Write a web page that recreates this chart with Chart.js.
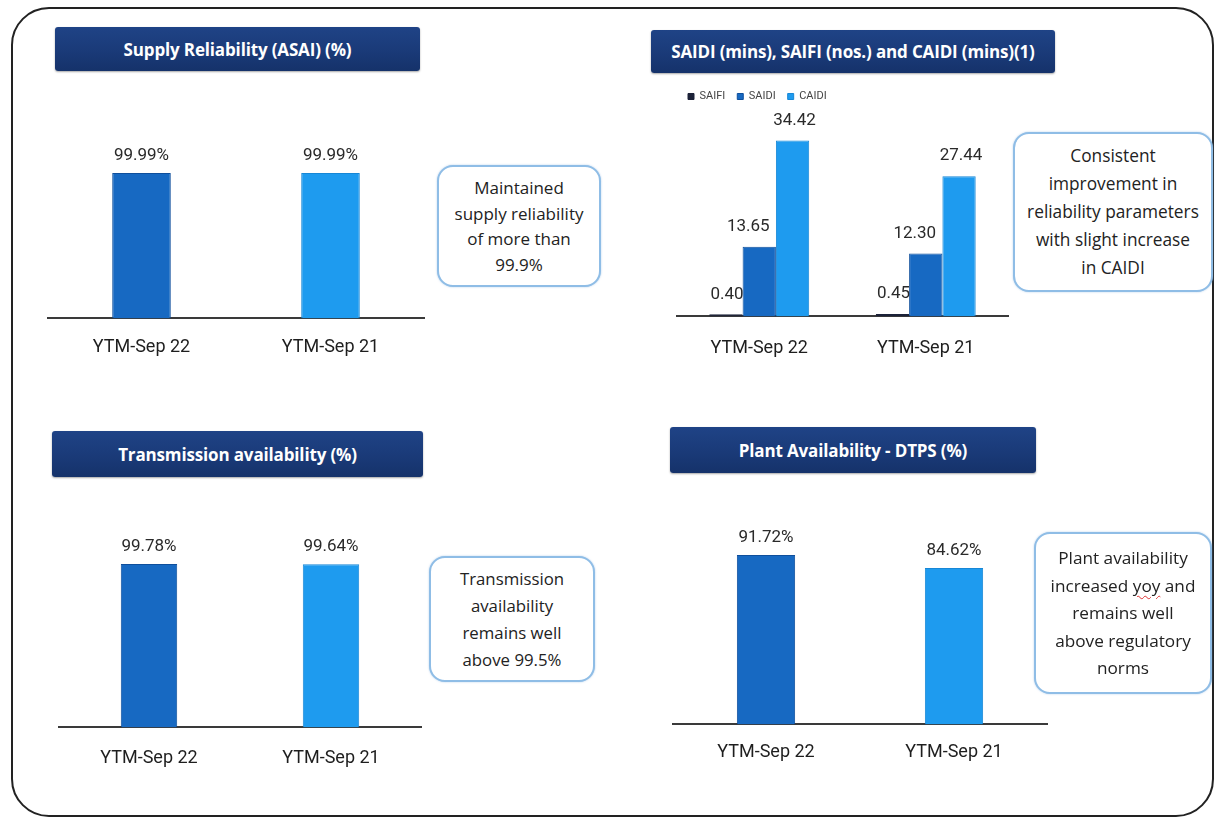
<!DOCTYPE html>
<html>
<head>
<meta charset="utf-8">
<title>Reliability and availability indicators</title>
<script src="https://cdn.jsdelivr.net/npm/chart.js@4.4.1/dist/chart.umd.min.js"></script>
<style>
  html, body { margin: 0; padding: 0; background: #ffffff; }
  #page { position: relative; width: 1219px; height: 820px; overflow: hidden; background: #ffffff; }
  .frame { position: absolute; left: 11px; top: 7px; width: 1203px; height: 810px;
           border: 2px solid #222; border-radius: 38px; box-sizing: border-box; }
  .title { position: absolute; box-sizing: border-box; color: #fff;
           background: linear-gradient(180deg, #1f4386 0%, #1a3a78 55%, #15326a 100%);
           border-radius: 3px; box-shadow: 0 1px 2px rgba(0,0,0,0.35);
           font-family: "Open Sans", sans-serif; font-weight: 700; font-size: 17px;
           letter-spacing: -0.15px; display: flex; align-items: center; justify-content: center; }
  .note { position: absolute; box-sizing: border-box; border: 2px solid #8fbde6;
          border-radius: 16px; background: #fff; box-shadow: 0 0 2px rgba(120,170,220,0.6);
          font-family: "Open Sans", sans-serif; color: #222; text-align: center;
          display: flex; align-items: center; justify-content: center; }
  .box { position: absolute; }
  .yoy { text-decoration: underline wavy #d33; text-decoration-thickness: 1px; text-underline-offset: 3px; }
</style>
</head>
<body>
<div id="page">
  <div class="frame"></div>

  <div class="title" style="left:55px; top:27px; width:365px; height:44px;">Supply Reliability (ASAI) (%)</div>
  <div class="title" style="left:651px; top:30px; width:404px; height:43px;">SAIDI (mins), SAIFI (nos.) and CAIDI (mins)(1)</div>
  <div class="title" style="left:52px; top:431px; width:371px; height:46px;">Transmission availability (%)</div>
  <div class="title" style="left:670px; top:427px; width:366px; height:46px;">Plant Availability - DTPS (%)</div>

  <div class="box" style="left:47px; top:130px; width:378px; height:246px;"><canvas id="supplyChart"></canvas></div>
  <div class="box" style="left:676px; top:79px; width:333px; height:301px;"><canvas id="indexChart"></canvas></div>
  <div class="box" style="left:58px; top:520px; width:364px; height:269px;"><canvas id="transmissionChart"></canvas></div>
  <div class="box" style="left:672px; top:500px; width:376px; height:280px;"><canvas id="plantChart"></canvas></div>

  <div class="note" style="left:437px; top:165px; width:164px; height:122px; font-size:17px; line-height:25.5px;">
    <div>Maintained<br>supply reliability<br>of more than<br>99.9%</div></div>
  <div class="note" style="left:1013px; top:132px; width:200px; height:160px; font-size:17.3px; line-height:28px;">
    <div>Consistent<br>improvement in<br>reliability parameters<br>with slight increase<br>in CAIDI</div></div>
  <div class="note" style="left:429px; top:556px; width:166px; height:126px; font-size:16.8px; line-height:27px;">
    <div>Transmission<br>availability<br>remains well<br>above 99.5%</div></div>
  <div class="note" style="left:1034px; top:532px; width:178px; height:162px; font-size:17.2px; line-height:27.5px;">
    <div>Plant availability<br>increased <span class="yoy">yoy</span> and<br>remains well<br>above regulatory<br>norms</div></div>
</div>

<script>
// Periods compared in every panel
const periods = ['YTM-Sep 22', 'YTM-Sep 21'];

// Supply reliability, ASAI (%)
const supplyReliability = [99.99, 99.99];

// Transmission availability (%)
const transmissionAvailability = [99.78, 99.64];

// Plant availability, DTPS (%)
const plantAvailability = [91.72, 84.62];

// Reliability indices
const indexNames = ['SAIFI', 'SAIDI', 'CAIDI'];
const saifi = [0.40, 0.45];
const saidi = [13.65, 12.30];
const caidi = [34.42, 27.44];

const DARK_BLUE = '#1769c2';
const DARK_EDGE = '#0f4f9c';
const LIGHT_BLUE = '#1e9bef';
const LIGHT_EDGE = '#1787d6';
const NAVY = '#1c2238';

// Writes each bar's value above it (drawn under the bars, so a neighbouring bar may cover it)
const valueLabels = {
  id: 'valueLabels',
  beforeDatasetsDraw(chart, args, opts) {
    const ctx = chart.ctx;
    ctx.save();
    ctx.font = '17px Roboto, sans-serif';
    ctx.fillStyle = '#2a2a2a';
    ctx.textAlign = 'center';
    ctx.textBaseline = 'middle';
    chart.data.datasets.forEach((ds, i) => {
      const meta = chart.getDatasetMeta(i);
      const dx = (opts.shift && opts.shift[i]) || 0;
      meta.data.forEach((bar, j) => {
        const text = ds.data[j].toFixed(2) + (opts.suffix || '');
        ctx.fillText(text, bar.x + dx, bar.y - opts.offset);
      });
    });
    ctx.restore();
  }
};

function axisX(tickPad) {
  return {
    grid: { display: false, drawTicks: false },
    border: { display: true, color: '#3a3a3a', width: 2 },
    ticks: { padding: tickPad, color: '#1e1e1e', font: { family: 'Roboto', size: 18 } }
  };
}

function periodBars(canvasId, values, padTop, tickPad) {
  return new Chart(document.getElementById(canvasId), {
    type: 'bar',
    data: {
      labels: periods,
      datasets: [{
        data: values,
        backgroundColor: [DARK_BLUE, LIGHT_BLUE],
        borderColor: [DARK_EDGE, LIGHT_EDGE],
        borderWidth: 1,
        barPercentage: 0.31,
        categoryPercentage: 1
      }]
    },
    options: {
      responsive: true,
      maintainAspectRatio: false,
      animation: false,
      layout: { padding: { top: padTop, left: 0, right: 0, bottom: 0 } },
      plugins: {
        legend: { display: false },
        tooltip: { enabled: false },
        valueLabels: { suffix: '%', offset: 17 }
      },
      scales: {
        x: axisX(tickPad),
        y: { display: false, min: 0, max: 100 }
      }
    },
    plugins: [valueLabels]
  });
}

periodBars('supplyChart', supplyReliability, 43, 18);
periodBars('transmissionChart', transmissionAvailability, 43.6, 20);
periodBars('plantChart', plantAvailability, 39.7, 17);

new Chart(document.getElementById('indexChart'), {
  type: 'bar',
  data: {
    labels: periods,
    datasets: [
      { label: indexNames[0], data: saifi, backgroundColor: NAVY, borderColor: NAVY, borderWidth: 1 },
      { label: indexNames[1], data: saidi, backgroundColor: DARK_BLUE, borderColor: DARK_EDGE, borderWidth: 1 },
      { label: indexNames[2], data: caidi, backgroundColor: LIGHT_BLUE, borderColor: LIGHT_EDGE, borderWidth: 1 }
    ]
  },
  options: {
    responsive: true,
    maintainAspectRatio: false,
    animation: false,
    datasets: { bar: { categoryPercentage: 0.6, barPercentage: 1 } },
    layout: { padding: 0 },
    plugins: {
      legend: {
        display: true,
        position: 'top',
        align: 'start',
        labels: {
          boxWidth: 6, boxHeight: 6, padding: 12,
          color: '#444', font: { family: 'Roboto', size: 11 }
        }
      },
      tooltip: { enabled: false },
      valueLabels: { suffix: '', offset: 20, shift: [1, -11, 2] }
    },
    scales: {
      x: axisX(21),
      y: { display: false, min: 0, max: 40 }
    }
  },
  plugins: [valueLabels]
});
</script>
</body>
</html>
